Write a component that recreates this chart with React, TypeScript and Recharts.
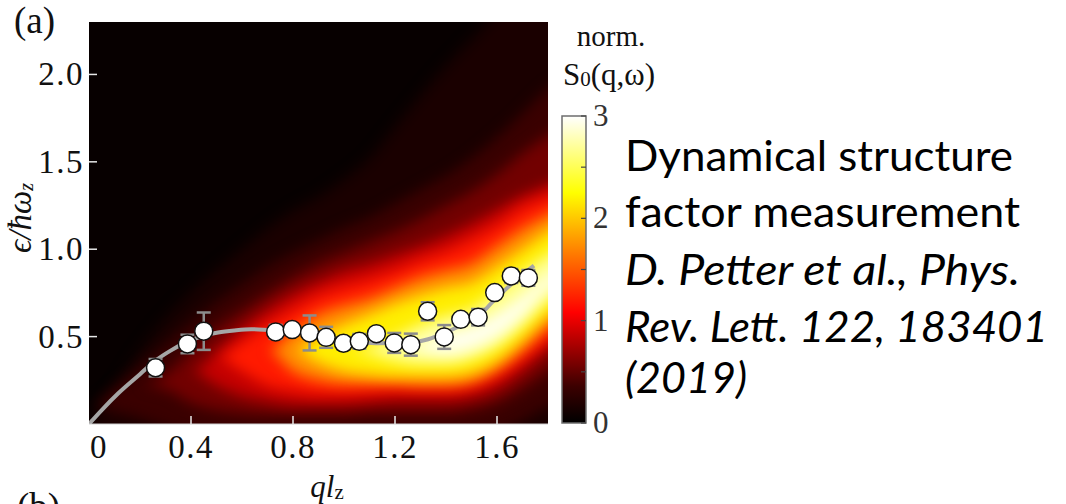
import React from 'react';
import {
  ComposedChart,
  Area,
  Line,
  Scatter,
  ErrorBar,
  XAxis,
  YAxis,
  CartesianGrid,
  BarChart,
  Bar,
} from 'recharts';

// measured points (q l_z, energy) with error bars
const qPoints = [0.261, 0.386, 0.45, 0.732, 0.797, 0.865, 0.93, 0.998, 1.06, 1.127, 1.197, 1.262, 1.328, 1.393, 1.458, 1.526, 1.591, 1.656, 1.723];
const ePoints = [0.322, 0.458, 0.531, 0.527, 0.54, 0.521, 0.496, 0.462, 0.473, 0.517, 0.464, 0.454, 0.645, 0.498, 0.599, 0.611, 0.752, 0.847, 0.836];
const eErrors = [0.05, 0.053, 0.107, 0.04, 0.02, 0.1, 0.06, 0.035, 0.042, 0.02, 0.057, 0.063, 0.052, 0.068, 0.02, 0.047, 0.02, 0.04, 0.045];

// gray theory curve
const fitQ = [0, 0.05, 0.115, 0.2, 0.26, 0.32, 0.386, 0.45, 0.506, 0.57, 0.636, 0.73, 0.865, 1.0, 1.127, 1.26, 1.33, 1.393, 1.46, 1.526, 1.59, 1.656, 1.745];
const fitE = [0, 0.08, 0.176, 0.285, 0.362, 0.42, 0.471, 0.505, 0.523, 0.535, 0.542, 0.535, 0.512, 0.48, 0.462, 0.466, 0.485, 0.52, 0.565, 0.615, 0.71, 0.8, 0.906];

// S0(q,w) map read as contour bands: lower / upper edge of each level on a q grid
const gridQ = [-0.1, 0, 0.1, 0.2, 0.3, 0.4, 0.5, 0.6, 0.7, 0.8, 0.9, 1.0, 1.1, 1.2, 1.3, 1.4, 1.5, 1.6, 1.7, 1.8, 1.9];
const faintLo = [-0.15, -0.15, -0.15, -0.15, -0.15, -0.15, -0.15, -0.15, -0.15, -0.15, -0.15, -0.15, -0.15, -0.15, -0.15, -0.15, -0.15, -0.15, -0.15, -0.15, -0.15];
const faintHi = [-0.15, 0.0, 0.2, 0.42, 0.6, 0.75, 0.88, 1.0, 1.12, 1.22, 1.3, 1.4, 1.52, 1.7, 1.88, 2.05, 2.2, 2.35, 2.45, 2.5, 2.5];
const maroonLo = [0.1, 0.1, 0.07, 0.03, -0.02, -0.06, -0.1, -0.1, -0.1, -0.1, -0.1, -0.1, -0.1, -0.1, -0.1, -0.1, -0.1, -0.05, 0.02, 0.1, 0.16];
const maroonHi = [0.1, 0.1, 0.2, 0.32, 0.45, 0.58, 0.7, 0.8, 0.9, 0.98, 1.05, 1.12, 1.18, 1.26, 1.34, 1.42, 1.52, 1.64, 1.78, 1.92, 2.0];
const darkLo = [0.22, 0.22, 0.22, 0.22, 0.2, 0.12, 0.08, 0.06, 0.05, 0.05, 0.05, 0.05, 0.06, 0.06, 0.06, 0.06, 0.08, 0.12, 0.2, 0.3, 0.4];
const darkHi = [0.22, 0.22, 0.22, 0.22, 0.28, 0.42, 0.55, 0.65, 0.75, 0.84, 0.92, 0.98, 1.04, 1.1, 1.17, 1.25, 1.33, 1.43, 1.55, 1.65, 1.75];
const redLo = [0.3, 0.3, 0.3, 0.3, 0.3, 0.3, 0.22, 0.16, 0.13, 0.11, 0.11, 0.11, 0.12, 0.13, 0.13, 0.13, 0.15, 0.2, 0.3, 0.42, 0.52];
const redHi = [0.3, 0.3, 0.3, 0.3, 0.3, 0.3, 0.42, 0.55, 0.66, 0.75, 0.82, 0.88, 0.92, 0.97, 1.02, 1.08, 1.15, 1.23, 1.31, 1.37, 1.45];
const brightLo = [0.38, 0.38, 0.38, 0.38, 0.38, 0.38, 0.38, 0.3, 0.22, 0.19, 0.17, 0.17, 0.18, 0.19, 0.19, 0.19, 0.21, 0.27, 0.37, 0.48, 0.58];
const brightHi = [0.38, 0.38, 0.38, 0.38, 0.38, 0.38, 0.38, 0.47, 0.57, 0.66, 0.74, 0.79, 0.83, 0.88, 0.94, 0.99, 1.06, 1.14, 1.24, 1.3, 1.38];
const orangeLo = [0.42, 0.42, 0.42, 0.42, 0.42, 0.42, 0.42, 0.42, 0.42, 0.3, 0.25, 0.23, 0.23, 0.23, 0.22, 0.22, 0.24, 0.31, 0.42, 0.55, 0.64];
const orangeHi = [0.42, 0.42, 0.42, 0.42, 0.42, 0.42, 0.42, 0.42, 0.42, 0.53, 0.63, 0.68, 0.72, 0.78, 0.84, 0.88, 0.92, 1.02, 1.12, 1.2, 1.28];
const yellowLo = [0.42, 0.42, 0.42, 0.42, 0.42, 0.42, 0.42, 0.42, 0.42, 0.42, 0.35, 0.3, 0.28, 0.27, 0.27, 0.27, 0.29, 0.36, 0.48, 0.62, 0.7];
const yellowHi = [0.42, 0.42, 0.42, 0.42, 0.42, 0.42, 0.42, 0.42, 0.42, 0.42, 0.5, 0.57, 0.63, 0.69, 0.74, 0.78, 0.81, 0.9, 1.0, 1.1, 1.18];
const paleLo = [0.42, 0.42, 0.42, 0.42, 0.42, 0.42, 0.42, 0.42, 0.42, 0.42, 0.42, 0.42, 0.4, 0.36, 0.34, 0.34, 0.37, 0.44, 0.56, 0.7, 0.78];
const paleHi = [0.42, 0.42, 0.42, 0.42, 0.42, 0.42, 0.42, 0.42, 0.42, 0.42, 0.42, 0.42, 0.44, 0.5, 0.57, 0.62, 0.66, 0.76, 0.87, 0.97, 1.05];
const whiteLo = [0.44, 0.44, 0.44, 0.44, 0.44, 0.44, 0.44, 0.44, 0.44, 0.44, 0.44, 0.44, 0.44, 0.44, 0.42, 0.4, 0.43, 0.5, 0.62, 0.78, 0.86];
const whiteHi = [0.44, 0.44, 0.44, 0.44, 0.44, 0.44, 0.44, 0.44, 0.44, 0.44, 0.44, 0.44, 0.44, 0.44, 0.46, 0.52, 0.56, 0.63, 0.73, 0.85, 0.9];

const xTicks = [0, 0.4, 0.8, 1.2, 1.6];
const yTicks = [0.5, 1.0, 1.5, 2.0];
const colorTicks = [0, 0.5, 1, 1.5, 2, 2.5, 3];

const heatLayers = [
  { key: 'faint', color: '#1a0000', lo: faintLo, hi: faintHi },
  { key: 'maroon', color: '#3a0000', lo: maroonLo, hi: maroonHi },
  { key: 'dark', color: '#720000', lo: darkLo, hi: darkHi },
  { key: 'red', color: '#c40000', lo: redLo, hi: redHi },
  { key: 'bright', color: '#ff1a00', lo: brightLo, hi: brightHi },
  { key: 'orange', color: '#ff8c00', lo: orangeLo, hi: orangeHi },
  { key: 'yellow', color: '#ffee00', lo: yellowLo, hi: yellowHi },
  { key: 'pale', color: '#ffff90', lo: paleLo, hi: paleHi },
  { key: 'white', color: '#fffff0', lo: whiteLo, hi: whiteHi },
];

const heatRows = gridQ.map((q, i) => {
  const row: Record<string, any> = { q };
  heatLayers.forEach((l) => {
    row[l.key] = [l.lo[i], l.hi[i]];
  });
  return row;
});
const pointRows = qPoints.map((q, i) => ({ q, e: ePoints[i], err: eErrors[i] }));
const fitRows = fitQ.map((q, i) => ({ q, e: fitE[i] }));

const SERIF = '"Liberation Serif", "Times New Roman", serif';
const SANS = 'Lato, "Open Sans", sans-serif';

const XTick = (props: any) => {
  const { x, y, payload } = props;
  const v = payload.value;
  return (
    <g>
      {v !== 0 && <line x1={x} x2={x} y1={y} y2={y - 8} stroke="#e8e8e8" strokeWidth={1.5} />}
      <text x={v === 0 ? x + 10 : x} y={y + 34} textAnchor="middle" fontFamily={SERIF} fontSize={33} letterSpacing={1.5} fill="#111">
        {v === 0 ? '0' : v.toFixed(1)}
      </text>
    </g>
  );
};

const YTick = (props: any) => {
  const { x, y, payload } = props;
  return (
    <g>
      <line x1={x} x2={x + 8} y1={y} y2={y} stroke="#e8e8e8" strokeWidth={1.5} />
      <text x={x - 5} y={y + 11} textAnchor="end" fontFamily={SERIF} fontSize={33} letterSpacing={1.5} fill="#111">
        {payload.value.toFixed(1)}
      </text>
    </g>
  );
};

const ColorTick = (props: any) => {
  const { x, y, payload } = props;
  const v = payload.value;
  return (
    <g>
      <line x1={x} x2={x - 5} y1={y} y2={y} stroke="#444" strokeWidth={1.2} />
      {Number.isInteger(v) && (
        <text x={x + 7} y={y + 10} fontFamily={SERIF} fontSize={31} fill="#333">
          {v}
        </text>
      )}
    </g>
  );
};

export default function App() {
  return (
    <div style={{ position: 'relative', width: 1066, height: 504, background: '#fff', overflow: 'hidden' }}>
      <style>{'body{margin:0} .heat .recharts-area-area{filter:blur(7px)}'}</style>
      <svg width={0} height={0} style={{ position: 'absolute' }}>
        <defs>
          <linearGradient id="hotScale" x1="0" y1="1" x2="0" y2="0">
            <stop offset="0" stopColor="#000000" />
            <stop offset="0.12" stopColor="#3c0000" />
            <stop offset="0.36" stopColor="#ff0000" />
            <stop offset="0.55" stopColor="#ff7a00" />
            <stop offset="0.75" stopColor="#ffff00" />
            <stop offset="1" stopColor="#ffffff" />
          </linearGradient>
        </defs>
      </svg>

      <div style={{ position: 'absolute', left: 0, top: 0 }}>
        <ComposedChart width={560} height={504} data={heatRows} margin={{ top: 22, right: 12, bottom: 0, left: 0 }}>
          <CartesianGrid horizontal={false} vertical={false} fill="#070000" stroke="none" />
          <XAxis
            type="number"
            dataKey="q"
            domain={[0, 1.8]}
            allowDataOverflow
            ticks={xTicks}
            interval={0}
            height={80}
            tickSize={0}
            tickMargin={0}
            tickLine={false}
            axisLine={{ stroke: '#cfcfcf', strokeWidth: 1 }}
            tick={<XTick />}
          />
          <YAxis
            type="number"
            domain={[0, 2.3]}
            allowDataOverflow
            ticks={yTicks}
            interval={0}
            width={89}
            tickSize={0}
            tickMargin={0}
            tickLine={false}
            axisLine={false}
            tick={<YTick />}
          />
          {heatLayers.map((l) => (
            <Area
              key={l.key}
              className="heat"
              dataKey={l.key}
              type="monotone"
              fill={l.color}
              fillOpacity={1}
              stroke="none"
              dot={false}
              activeDot={false}
              isAnimationActive={false}
            />
          ))}
          <Line
            data={fitRows}
            dataKey="e"
            type="monotone"
            stroke="#a6a6a6"
            strokeWidth={4}
            dot={false}
            activeDot={false}
            isAnimationActive={false}
          />
          <Scatter
            data={pointRows}
            dataKey="e"
            isAnimationActive={false}
            shape={(p: any) => <circle cx={p.cx} cy={p.cy} r={9} fill="#fff" stroke="#111" strokeWidth={1.5} />}
          >
            <ErrorBar dataKey="err" direction="y" width={7} stroke="#8c8c8c" strokeWidth={2.5} />
          </Scatter>
        </ComposedChart>
      </div>

      <div style={{ position: 'absolute', left: 540, top: 0 }}>
        <BarChart width={120} height={504} data={[{ name: 'S', s: 3 }]} margin={{ top: 116, right: 0, bottom: 81, left: 22 }} barCategoryGap={0}>
          <XAxis dataKey="name" hide />
          <YAxis
            orientation="right"
            type="number"
            domain={[0, 3]}
            ticks={colorTicks}
            interval={0}
            width={74}
            tickSize={0}
            tickMargin={0}
            tickLine={false}
            axisLine={false}
            tick={<ColorTick />}
          />
          <Bar dataKey="s" fill="url(#hotScale)" stroke="#6e6e6e" strokeWidth={1.5} isAnimationActive={false} />
        </BarChart>
      </div>

      <svg width={1066} height={504} style={{ position: 'absolute', left: 0, top: 0, pointerEvents: 'none' }}>
        <text x={14} y={33} fontFamily={SERIF} fontSize={37} fill="#111">(a)</text>
        <text x={17} y={519} fontFamily={SERIF} fontSize={37} fill="#111">(b)</text>
        <text
          x={0}
          y={0}
          transform="translate(31 218) rotate(-90)"
          textAnchor="middle"
          fontFamily={SERIF}
          fontStyle="italic"
          fontSize={33}
          fill="#111"
        >
          ϵ/ħω<tspan fontSize={20} dy={2}>z</tspan>
        </text>
        <text x={327} y={497} textAnchor="middle" fontFamily={SERIF} fontSize={31} fill="#111">
          <tspan fontStyle="italic">ql</tspan>
          <tspan fontSize={21} dy={2}>z</tspan>
        </text>
        <text x={611} y={46} textAnchor="middle" fontFamily={SERIF} fontSize={29} fill="#111">norm.</text>
        <text x={609} y={85} textAnchor="middle" fontFamily={SERIF} fontSize={31} fill="#111">
          S<tspan fontSize={21} dy={1}>0</tspan>
          <tspan dy={-1}>(q,ω)</tspan>
        </text>
        <g fontFamily={SANS} fontSize={42} fill="#000">
          <text x={625} y={171} textLength={388} lengthAdjust="spacingAndGlyphs">Dynamical structure</text>
          <text x={625} y={227} textLength={395} lengthAdjust="spacingAndGlyphs">factor measurement</text>
          <text x={625} y={285} fontStyle="italic" textLength={395} lengthAdjust="spacingAndGlyphs">D. Petter et al., Phys.</text>
          <text x={625} y={342} fontStyle="italic" textLength={423} lengthAdjust="spacingAndGlyphs">Rev. Lett. 122, 183401</text>
          <text x={625} y={393} fontStyle="italic" textLength={122} lengthAdjust="spacingAndGlyphs">(2019)</text>
        </g>
      </svg>
    </div>
  );
}
